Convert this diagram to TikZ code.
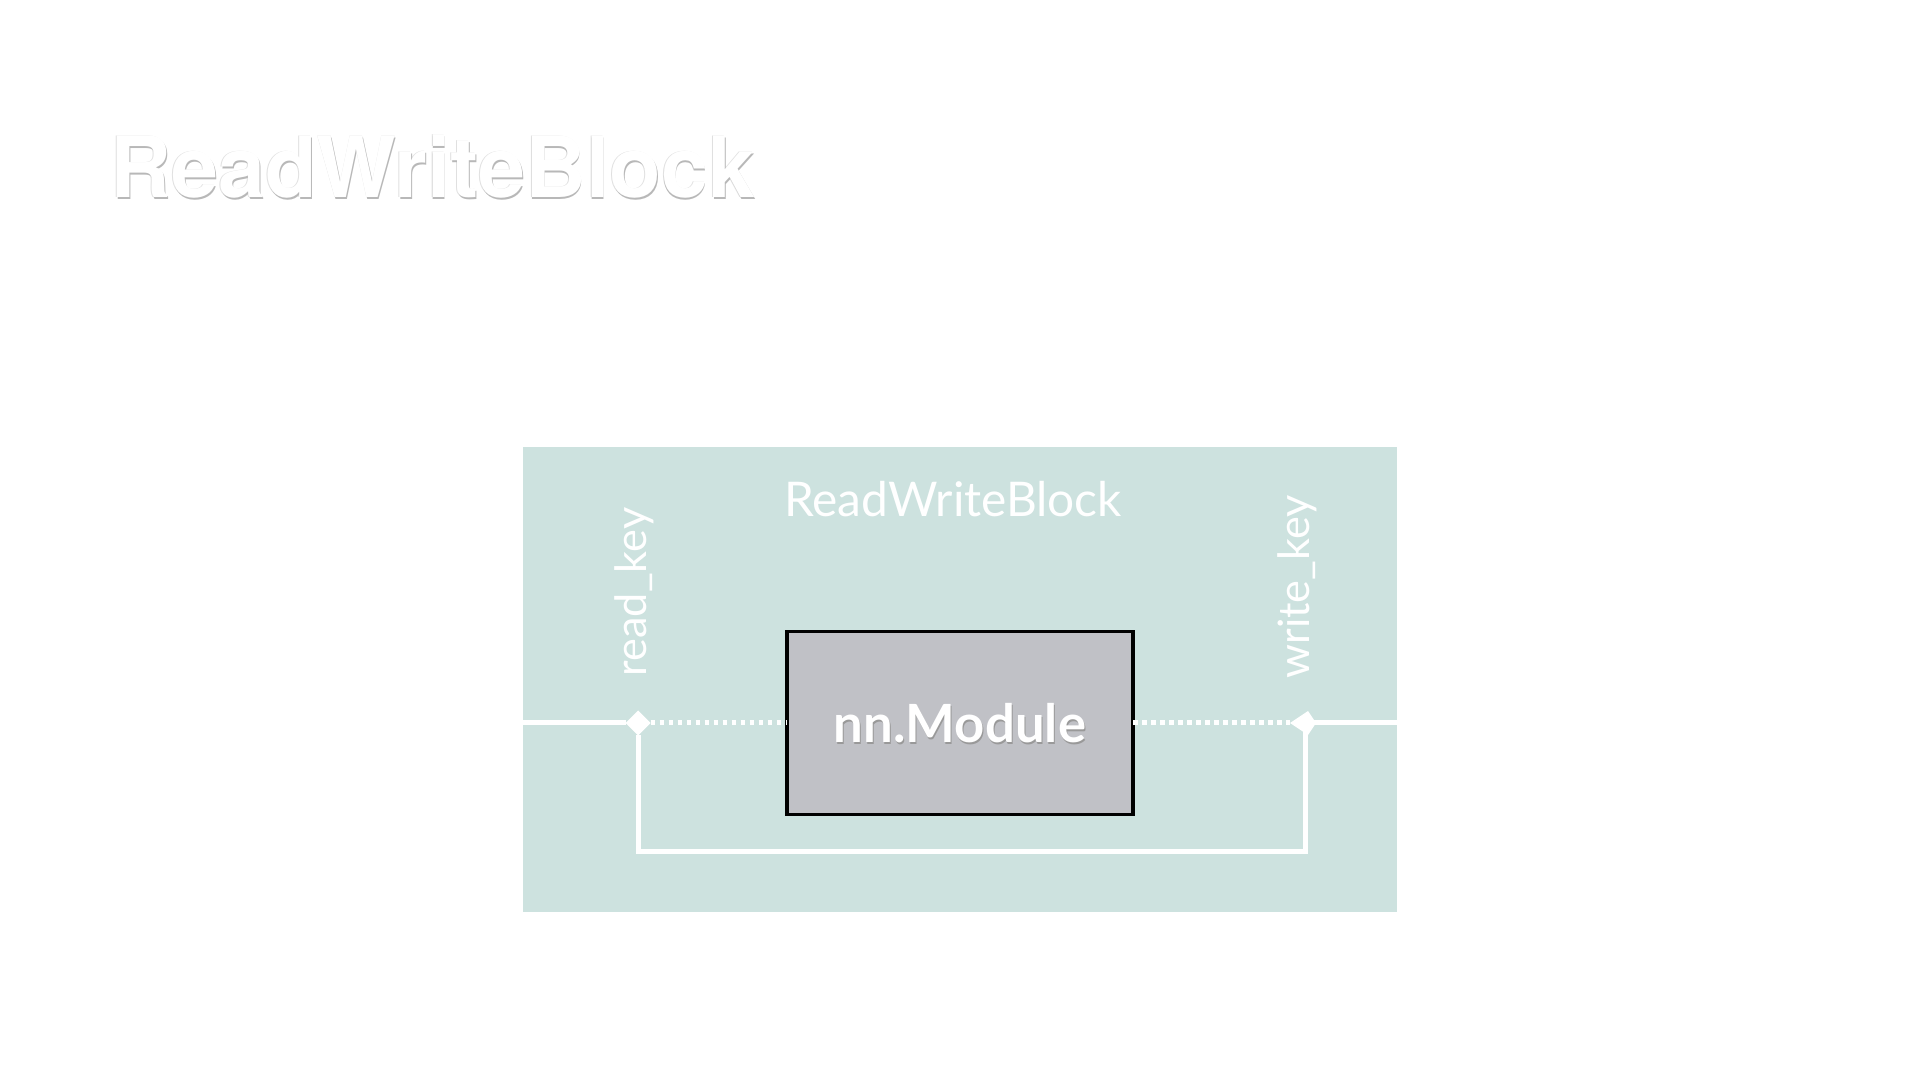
\documentclass[tikz,border=0pt]{standalone}
\usepackage{fontspec}
\setmainfont{Lato}
\newfontfamily\titlefont{TeX Gyre Heros}
\usetikzlibrary{positioning, arrows.meta, shapes.geometric}
\definecolor{blockbg}{HTML}{CDE2DF}
\definecolor{modbg}{HTML}{C0C1C6}

\begin{document}
\begin{tikzpicture}[
  every node/.style={inner sep=0pt, outer sep=0pt},
  heading/.style={anchor=base west, font=\titlefont\bfseries\fontsize{24}{28}\selectfont},
  block/.style={rectangle, fill=blockbg, minimum width=8.74cm, minimum height=4.65cm},
  module/.style={rectangle, draw=black, line width=1.1pt, fill=modbg, minimum width=3.46cm, minimum height=1.83cm},
  modtext/.style={font=\bfseries\fontsize{15}{18}\selectfont},
  lbl/.style={text=white, font=\fontsize{13.6}{16}\selectfont},
  keylbl/.style={text=white, rotate=90, font=\fontsize{12.3}{15}\selectfont},
  junction/.style={diamond, fill=white, minimum size=0.25cm},
  wire/.style={draw=white, line width=0.05cm},
  dots/.style={draw=white, line width=0.05cm, dash pattern=on 0.045cm off 0.045cm},
  >={Kite[length=0.26cm, width=0.24cm, inset=0.08cm]}
]
\useasboundingbox (0,0) rectangle (19.2,10.8);

% 제목
\node[heading, text=black!12] (titleglow) at (1.098,8.825) {ReadWriteBlock};
\node[heading, text=black!28] (titleshadow) at (1.113,8.807) {ReadWriteBlock};
\node[heading, text=white] (title) at (1.105,8.825) {ReadWriteBlock};

% 블록과 모듈
\node[block] (rwb) at (9.60,4.005) {};
\node[lbl, anchor=base] (rwblabel) at (9.53,5.635) {ReadWriteBlock};
\node[module] (mod) at (9.60,3.57) {};
\node[modtext, text=black!40] (modshadow) at ([shift={(0.01,-0.022)}]mod.center) {nn.Module};
\node[modtext, text=white] (modlabel) at (mod.center) {nn.Module};

% 키 라벨
\node[keylbl] (readkey) at (6.34,4.88) {read\_key};
\node[keylbl] (writekey) at (12.97,4.93) {write\_key};

% 연결점
\node[junction] (rj) at (6.38,3.57) {};
\coordinate (wj) at (13.05,3.57);
\coordinate (wtip) at (12.90,3.57);
\coordinate (loopL) at (6.38,2.28);
\coordinate (loopR) at (13.05,2.28);

% 선
\draw[wire] (rwb.west |- rj) -- (rj.west);
\draw[wire] (rj.south) -- (loopL) -- (loopR) -- (wj);
\draw[wire, ->] (rwb.east |- rj) -- (wtip);
\draw[dots] (rj.east) -- (mod.west |- rj);
\draw[dots] (mod.east |- rj) -- (wtip);

\end{tikzpicture}
\end{document}
